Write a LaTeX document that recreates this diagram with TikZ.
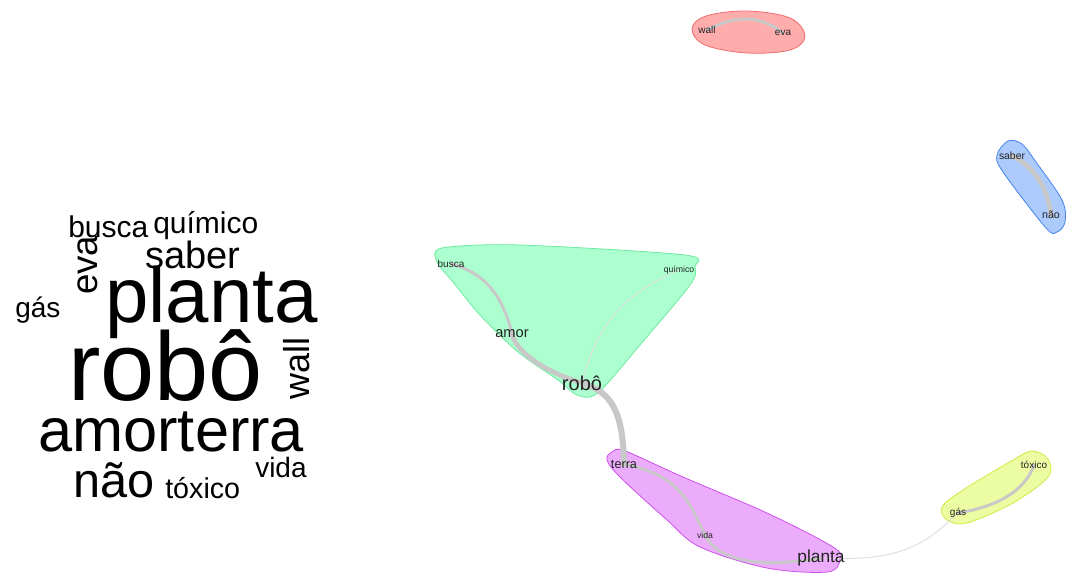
\documentclass[tikz,border=0pt]{standalone}
\usepackage{fontspec}
\setmainfont{Liberation Sans}
\pgfdeclarelayer{hull}
\pgfdeclarelayer{edge}
\pgfsetlayers{hull,edge,main}
\definecolor{gfill}{RGB}{172,255,206}
\definecolor{gline}{RGB}{110,235,160}
\definecolor{pfill}{RGB}{236,172,252}
\definecolor{pline}{RGB}{205,80,235}
\definecolor{rfill}{RGB}{255,172,172}
\definecolor{rline}{RGB}{240,110,110}
\definecolor{bfill}{RGB}{172,202,252}
\definecolor{bline}{RGB}{70,135,235}
\definecolor{yfill}{RGB}{236,252,162}
\definecolor{yline}{RGB}{205,235,70}
\definecolor{ecol}{RGB}{200,200,200}
\definecolor{tcol}{RGB}{222,222,222}
\definecolor{labc}{RGB}{35,35,35}
\newcommand{\fsz}[1]{\fontsize{#1}{#1}\selectfont}
\begin{document}
\begin{tikzpicture}[x=0.75pt,y=-0.75pt,
  wc/.style={anchor=base west,inner sep=0pt,text=black},
  lab/.style={inner sep=0.5pt,text=labc},
  hullstyle/.style={line width=0.6pt},
  edgebase/.style={draw=ecol,line cap=round},
  ethin/.style={draw=tcol,line width=0.7pt},
  emid/.style={edgebase,line width=2.2pt},
  ethick/.style={edgebase,line width=3.6pt},
  eheavy/.style={edgebase,line width=4.6pt}]
\useasboundingbox (0,0) rectangle (1067,572);

% word cloud
\node[wc] (wbusca) at (68,237) {\fsz{22.5pt}busca};
\node[wc] (wquimico) at (153,233) {\fsz{22.5pt}químico};
\node[wc] (wsaber) at (145,268) {\fsz{28.5pt}saber};
\node[wc,rotate=90] (weva) at (97,295) {\fsz{27.5pt}eva};
\node[wc] (wplanta) at (105,322) {\fsz{58.5pt}planta};
\node[wc] (wgas) at (15,317) {\fsz{21pt}gás};
\node[wc] (wrobo) at (68,400) {\fsz{73pt}robô};
\node[wc,rotate=90] (wwall) at (309,400) {\fsz{27pt}wall};
\node[wc] (wamorterra) at (38,451) {\fsz{46pt}amorterra};
\node[wc] (wnao) at (73,497) {\fsz{36.5pt}não};
\node[wc] (wtoxico) at (165,498) {\fsz{21.5pt}tóxico};
\node[wc] (wvida) at (255,477) {\fsz{21pt}vida};

% network labels
\node[lab] (busca) at (451,264) {\fsz{7.5pt}busca};
\node[lab] (quimico) at (679,270) {\fsz{6.5pt}químico};
\node[lab] (amor) at (512,334) {\fsz{11pt}amor};
\node[lab] (robo) at (582,383) {\fsz{15pt}robô};
\node[lab] (terra) at (624,464) {\fsz{9.5pt}terra};
\node[lab] (vida) at (705,535) {\fsz{6.5pt}vida};
\node[lab] (planta) at (821,558) {\fsz{13pt}planta};
\node[lab] (gas) at (958,513) {\fsz{7.5pt}gás};
\node[lab] (toxico) at (1034,465) {\fsz{7.5pt}tóxico};
\node[lab] (wall) at (707,30) {\fsz{7.5pt}wall};
\node[lab] (eva) at (783,33) {\fsz{7.5pt}eva};
\node[lab] (saber) at (1012,156) {\fsz{7.8pt}saber};
\node[lab] (nao) at (1051,215) {\fsz{8pt}não};

% hulls
\begin{pgfonlayer}{hull}
\draw[hullstyle,fill=gfill,draw=gline] plot[smooth cycle,tension=0.5] coordinates {
  (442,248) (520,245) (685,255) (695,267) (690,285) (640,345) (605,386)
  (590,397) (575,394) (558,380) (518,352) (480,315) (453,282) (437,262)};
\draw[hullstyle,fill=pfill,draw=pline] plot[smooth cycle,tension=0.55] coordinates {
  (612,452) (625,451) (683,477) (767,513) (833,547) (840,560) (827,572)
  (767,568) (700,547) (667,520) (620,477) (607,460)};
\draw[hullstyle,fill=rfill,draw=rline] plot[smooth cycle,tension=0.6] coordinates {
  (692,29) (706,16) (747,11) (790,18) (805,36) (790,50) (747,53) (705,45)};
\draw[hullstyle,fill=bfill,draw=bline] plot[smooth cycle,tension=0.55] coordinates {
  (1008,141) (1022,144) (1036,162) (1062,200) (1065,222) (1057,232)
  (1046,228) (1003,172) (997,155)};
\draw[hullstyle,fill=yfill,draw=yline] plot[smooth cycle,tension=0.55] coordinates {
  (1032,451) (1048,459) (1048,477) (1013,503) (967,523) (947,520)
  (942,507) (963,490) (1013,460)};
\end{pgfonlayer}

% edges
\begin{pgfonlayer}{edge}
\draw[emid] (busca.center) .. controls (482,272) and (502,292) .. (amor.center);
\draw[ethick] (amor.center) .. controls (516,352) and (545,372) .. (robo.center);
\draw[eheavy] (robo.center) .. controls (612,392) and (623,412) .. (terra.center);
\draw[ethin] (quimico.center) .. controls (620,295) and (595,330) .. (robo.center);
\draw[emid] (terra.center) .. controls (680,476) and (688,500) .. (vida.center);
\draw[emid] (vida.center) .. controls (718,562) and (762,568) .. (planta.center);
\draw[ethin] (planta.center) .. controls (900,562) and (925,545) .. (gas.center);
\draw[emid] (gas.center) .. controls (1000,506) and (1025,490) .. (toxico.center);
\draw[emid] (wall.center) .. controls (735,15) and (760,15) .. (eva.center);
\draw[ethick] (saber.center) .. controls (1035,166) and (1048,190) .. (nao.center);
\end{pgfonlayer}
\end{tikzpicture}
\end{document}
